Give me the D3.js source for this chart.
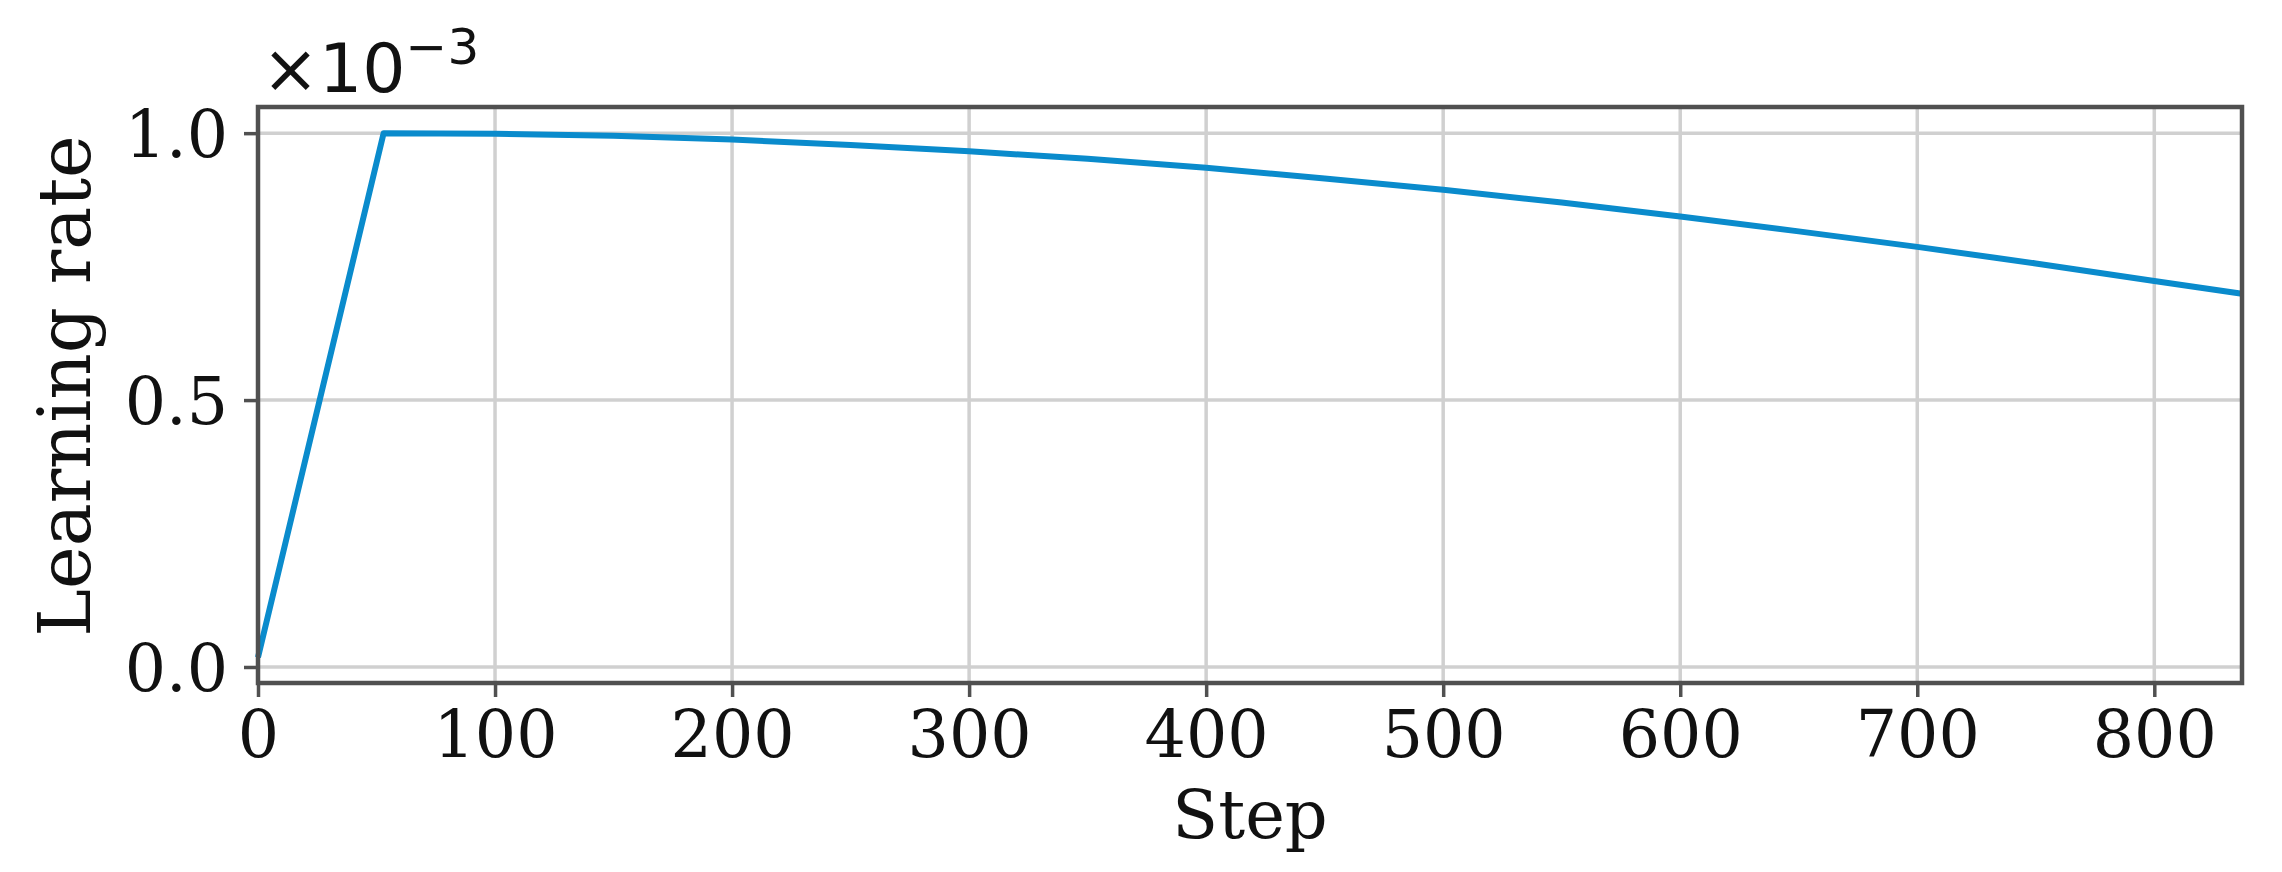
<!DOCTYPE html>
<html>
<head>
<meta charset="utf-8">
<script src="https://cdn.jsdelivr.net/npm/d3@7"></script>
<style>
  body { margin: 0; background: #fff; }
  svg text { fill: #111; }
</style>
</head>
<body>
<div id="svg-container1"></div>
<script>
const width = 2282;
const height = 872;
const margin = {'top': 107, 'bottom': 189, 'left': 258, 'right': 40};

// data (learning rate in units of 1e-3)
const steps = [0, 53, 100, 150, 200, 250, 300, 350, 400, 450, 500, 550, 600, 650, 700, 750, 800, 837];
const lrValues = [0.018, 1.0, 0.999, 0.995, 0.988, 0.978, 0.966, 0.952, 0.935, 0.915, 0.894, 0.870, 0.844, 0.816, 0.787, 0.756, 0.723, 0.699];
const xTicks = [0, 100, 200, 300, 400, 500, 600, 700, 800];
const yTicks = [0.0, 0.5, 1.0];

const data = steps.map((s, i) => ({step: s, lr: lrValues[i]}));

const svg = d3.select('#svg-container1')
    .append('svg')
    .attr('width', width)
    .attr('height', height);

// scales
const x = d3.scaleLinear()
    .domain([0, 837])
    .range([margin.left, width - margin.right]);

const y = d3.scaleLinear()
    .domain([-0.03, 1.049])
    .range([height - margin.bottom, margin.top]);

const fontSerif = '"DejaVu Serif", serif';
const tickColor = '#505050';

// grid
svg.append('g')
    .selectAll('line')
    .data(xTicks)
    .join('line')
    .attr('x1', d => x(d)).attr('x2', d => x(d))
    .attr('y1', margin.top).attr('y2', height - margin.bottom)
    .attr('stroke', '#d0d0d0')
    .attr('stroke-width', 3.5);

svg.append('g')
    .selectAll('line')
    .data(yTicks)
    .join('line')
    .attr('x1', margin.left).attr('x2', width - margin.right)
    .attr('y1', d => y(d)).attr('y2', d => y(d))
    .attr('stroke', '#d0d0d0')
    .attr('stroke-width', 3.5);

// line
svg.append('path')
    .datum(data)
    .attr('fill', 'none')
    .attr('stroke', '#0a8bcc')
    .attr('stroke-width', 6)
    .attr('stroke-linejoin', 'round')
    .attr('d', d3.line()
        .x(d => x(d.step))
        .y(d => y(d.lr))
    );

// x axis
const xAxis = svg.append('g')
    .attr('transform', 'translate(0,' + (height - margin.bottom) + ')')
    .call(d3.axisBottom(x).tickValues(xTicks).tickFormat(d3.format('d')).tickSize(14).tickPadding(14));

// y axis
const yAxis = svg.append('g')
    .attr('transform', 'translate(' + margin.left + ',0)')
    .call(d3.axisLeft(y).tickValues(yTicks).tickFormat(d3.format('.1f')).tickSize(14).tickPadding(16));

[xAxis, yAxis].forEach(g => {
    g.select('.domain').remove();
    g.selectAll('.tick line').attr('stroke', tickColor).attr('stroke-width', 3.5);
    g.selectAll('.tick text')
        .attr('font-family', fontSerif)
        .attr('font-size', 65)
        .attr('fill', '#111');
});
yAxis.selectAll('.tick text').attr('dy', '0.36em');

// frame
svg.append('rect')
    .attr('x', margin.left)
    .attr('y', margin.top)
    .attr('width', width - margin.left - margin.right)
    .attr('height', height - margin.top - margin.bottom)
    .attr('fill', 'none')
    .attr('stroke', tickColor)
    .attr('stroke-width', 4.5);

// axis labels
svg.append('text')
    .attr('x', (margin.left + width - margin.right) / 2)
    .attr('y', 838)
    .attr('text-anchor', 'middle')
    .attr('font-family', fontSerif)
    .attr('font-size', 67)
    .text('Step');

svg.append('text')
    .attr('transform', 'translate(90,386) rotate(-90)')
    .attr('text-anchor', 'middle')
    .attr('font-family', fontSerif)
    .attr('font-size', 72)
    .text('Learning rate');

// offset text
const offset = svg.append('text')
    .attr('x', 262)
    .attr('y', 92)
    .attr('font-family', '"DejaVu Sans", sans-serif')
    .attr('font-size', 68);
offset.append('tspan').text('×10');
offset.append('tspan')
    .attr('font-size', 50)
    .attr('dy', -28)
    .text('−3');
</script>
</body>
</html>
